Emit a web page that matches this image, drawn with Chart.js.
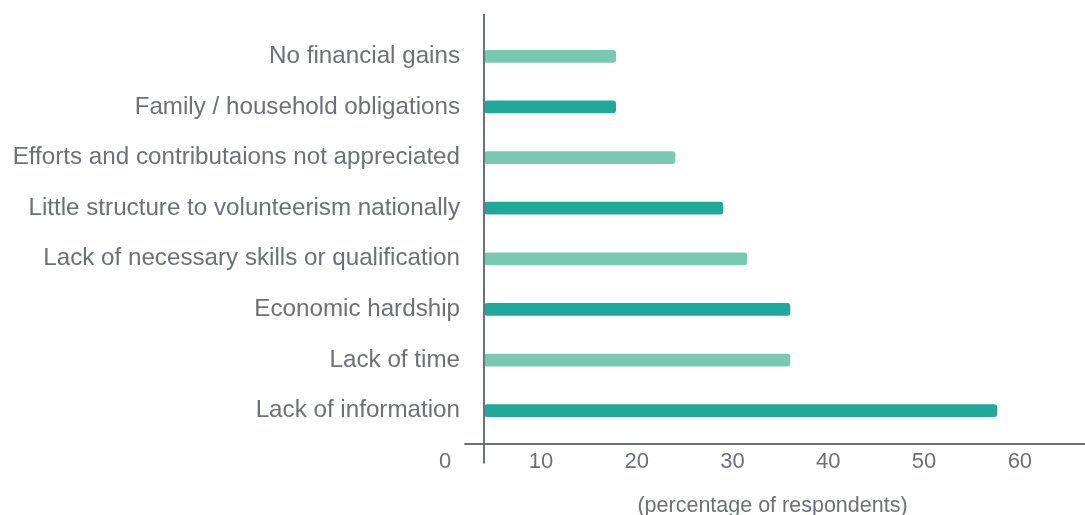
<!DOCTYPE html>
<html>
<head>
<meta charset="utf-8">
<script src="https://cdn.jsdelivr.net/npm/chart.js@4"></script>
<style>
  html, body { margin: 0; padding: 0; background: #ffffff; }
  #wrap { width: 1085px; height: 515px; }
</style>
</head>
<body>
<div id="wrap"><canvas id="myChart" width="1085" height="515"></canvas></div>
<script>
// data
const categories = [
    'No financial gains',
    'Family / household obligations',
    'Efforts and contributaions not appreciated',
    'Little structure to volunteerism nationally',
    'Lack of necessary skills or qualification',
    'Economic hardship',
    'Lack of time',
    'Lack of information'
];
const values = [17.8, 17.8, 24.0, 29.0, 31.5, 36.0, 36.0, 57.6];
const barColors = ['#78c9b1', '#20a99a', '#78c9b1', '#20a99a', '#78c9b1', '#20a99a', '#78c9b1', '#20a99a'];
const xTicks = [0, 10, 20, 30, 40, 50, 60];
const axisTitle = '(percentage of respondents)';

const textColor = '#6b7079';
const lineColor = '#6d717a';
const axisBase = 4.1;

// axis lines drawn offset from the plot, like the original
const axisLines = {
    id: 'axisLines',
    afterDraw(chart) {
        const { ctx, chartArea, scales } = chart;
        const x = scales.x;
        ctx.save();
        ctx.strokeStyle = lineColor;
        ctx.lineWidth = 2;
        const vx = Math.round(x.getPixelForValue(axisBase));
        ctx.beginPath();
        ctx.moveTo(vx, chartArea.top - 17);
        ctx.lineTo(vx, chartArea.bottom + 27.5);
        ctx.stroke();
        const hy = Math.round(chartArea.bottom + 8);
        ctx.beginPath();
        ctx.moveTo(x.getPixelForValue(2), hy);
        ctx.lineTo(chartArea.right, hy);
        ctx.stroke();
        ctx.restore();
    }
};

// config
const config = {
    type: 'bar',
    data: {
        labels: categories,
        datasets: [{
            data: values,
            base: axisBase,
            backgroundColor: barColors,
            borderWidth: 0,
            borderRadius: 3,
            borderSkipped: false,
            barThickness: 12
        }]
    },
    options: {
        indexAxis: 'y',
        responsive: false,
        animation: false,
        layout: { padding: { top: 31, right: 0, bottom: 0, left: 0 } },
        plugins: {
            legend: { display: false },
            tooltip: { enabled: false }
        },
        scales: {
            x: {
                type: 'linear',
                min: 1.55,
                max: 66.8,
                afterFit(scale) { scale.height = 79; },
                afterBuildTicks(scale) {
                    scale.ticks = xTicks.map(v => ({ value: v }));
                },
                grid: { display: false, drawTicks: false },
                border: { display: false },
                ticks: {
                    padding: 13,
                    color: textColor,
                    font: { family: 'Liberation Sans, Arial, sans-serif', size: 22 }
                },
                title: {
                    display: true,
                    text: axisTitle,
                    color: textColor,
                    padding: { top: 0, bottom: -2 },
                    font: { family: 'Liberation Sans, Arial, sans-serif', size: 21.5, lineHeight: 1 }
                }
            },
            y: {
                afterFit(scale) { scale.width = 460; },
                grid: { display: false, drawTicks: false },
                border: { display: false },
                ticks: {
                    padding: 0,
                    color: textColor,
                    font: { family: 'Liberation Sans, Arial, sans-serif', size: 24.2 }
                }
            }
        }
    },
    plugins: [axisLines]
};

// render init block
const myChart = new Chart(document.getElementById('myChart'), config);
</script>
</body>
</html>
